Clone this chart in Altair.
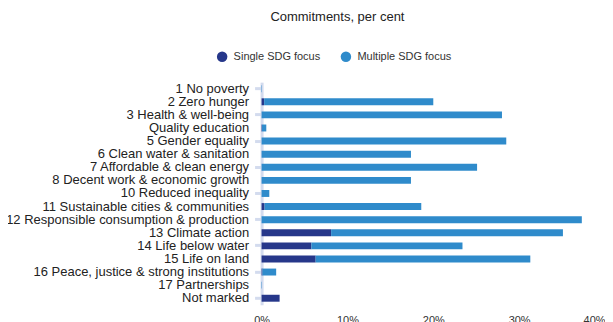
import altair as alt
import pandas as pd

categories = [
    "1 No poverty", "2 Zero hunger", "3 Health & well-being", "Quality education",
    "5 Gender equality", "6 Clean water & sanitation", "7 Affordable & clean energy",
    "8 Decent work & economic growth", "10 Reduced inequality",
    "11 Sustainable cities & communities", "12 Responsible consumption & production",
    "13 Climate action", "14 Life below water", "15 Life on land",
    "16 Peace, justice & strong institutions", "17 Partnerships", "Not marked",
]
single = [0.0, 0.3, 0.0, 0.05, 0.0, 0.0, 0.0, 0.0, 0.0, 0.35, 0.0, 8.1, 5.8, 6.3, 0.1, 0.0, 2.1]
multiple = [0.05, 19.7, 28.0, 0.5, 28.5, 17.4, 25.1, 17.4, 0.9, 18.25, 37.3, 27.0, 17.6, 25.0, 1.6, 0.05, 0.0]
series = ["Single SDG focus", "Multiple SDG focus"]
colors = ["#26378a", "#2f8bcb"]
x_ticks = [0, 10, 20, 30, 40]

rows = []
for c, s, m in zip(categories, single, multiple):
    rows.append({"cat": c, "series": series[0], "val": s, "ord": 0})
    rows.append({"cat": c, "series": series[1], "val": m, "ord": 1})
df = pd.DataFrame(rows)

tick_cats = categories[0::2]
tick_test = "indexof([" + ",".join("'" + c + "'" for c in tick_cats) + "], datum.value) >= 0"

FONT = "Liberation Sans"

chart = alt.Chart(df).mark_bar().encode(
    y=alt.Y("cat:N", sort=categories, title=None,
            scale=alt.Scale(paddingInner=0.47, paddingOuter=0.235),
            axis=alt.Axis(labelFontSize=13, labelColor="#222222", labelFont=FONT,
                          domainColor="#d3dbee", domainWidth=3,
                          tickColor="#d3dbee", tickWidth=3, tickSize=7,
                          tickOpacity={"condition": {"test": tick_test, "value": 1}, "value": 0},
                          labelPadding=6, labelLimit=400)),
    x=alt.X("val:Q", stack="zero", title=None,
            scale=alt.Scale(domain=[0, 40], nice=False),
            axis=alt.Axis(values=x_ticks, format=".0f", labelExpr="datum.label + '%'",
                          grid=False, domain=False, ticks=False, labelFontSize=11,
                          labelColor="#333333", labelFont=FONT, labelPadding=10,
                          labelAlign={"condition": {"test": "datum.value >= 40", "value": "right"},
                                      "value": "center"})),
    color=alt.Color("series:N", scale=alt.Scale(domain=series, range=colors),
                    legend=alt.Legend(title=None, orient="none", direction="horizontal",
                                      legendX=-45, legendY=-31, symbolType="circle",
                                      symbolSize=110, labelFontSize=11, labelFont=FONT,
                                      labelColor="#333333", labelOffset=6,
                                      columnPadding=20, padding=0, symbolStrokeWidth=0)),
    order=alt.Order("ord:Q"),
).properties(
    width=344, height=223,
    title=alt.TitleParams("Commitments, per cent", fontSize=13, font=FONT, fontWeight="normal",
                          color="#222222", anchor="middle", dx=-96, offset=27),
    autosize=alt.AutoSizeParams(type="none"),
    padding={"left": 254, "top": 74, "right": 0, "bottom": 30},
).configure_view(stroke=None)

chart.save("out.html", embed_options={"renderer": "svg", "actions": False})
